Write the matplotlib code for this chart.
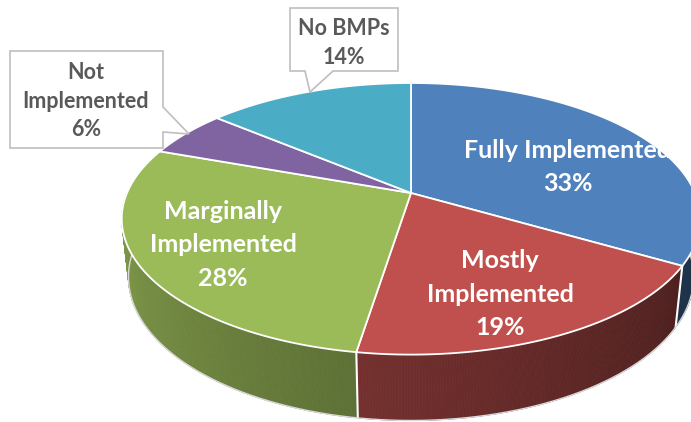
import numpy as np
import matplotlib
matplotlib.use("Agg")
import matplotlib.pyplot as plt
from matplotlib.patches import Polygon, Rectangle
from matplotlib.collections import PolyCollection

# ---- data ----
categories = ["Fully Implemented", "Mostly Implemented", "Marginally Implemented",
              "Not Implemented", "No BMPs"]
label_text = ["Fully Implemented", "Mostly\nImplemented", "Marginally\nImplemented",
              "Not\nImplemented", "No BMPs"]
shares = [33.4, 19.1, 28.0, 5.6, 13.9]
top_colors = ["#4F81BD", "#C0504D", "#9BBB59", "#8064A2", "#4BACC6"]

# ---- figure in pixel coordinates ----
W, H = 691, 422
fig = plt.figure(figsize=(W / 100, H / 100), dpi=100)
ax = fig.add_axes([0, 0, 1, 1])
ax.set_xlim(0, W)
ax.set_ylim(H, 0)
ax.axis("off")

# ---- 3D pie geometry (perspective) ----
CX, CY = 411, 193
R = 284.0
k = 0.19
sin_a = 110 * (1 + k) / R
cos_a = np.sqrt(1 - sin_a ** 2)
D = R * cos_a / k
h = 66.0


def proj(theta_deg, z):
    t = np.radians(theta_deg)
    X = R * np.cos(t)
    Y = R * np.sin(t)
    v = Y * sin_a + z * cos_a
    w = Y * cos_a - z * sin_a
    f = 1.0 / (1.0 + w / D)
    return CX + X * f, CY - v * f


vals = np.array(shares, dtype=float)
frac = vals / vals.sum()
cum = np.concatenate([[0], np.cumsum(frac)]) * 360.0
starts = 90 - cum[:-1]
ends = 90 - cum[1:]


def shade(theta):
    return np.interp(theta, [-180, -98, -30, 0], [0.86, 0.60, 0.40, 0.36])


# ---- side walls (front half) ----
for i, c in enumerate(top_colors):
    lo = max(ends[i], -180.0)
    hi = min(starts[i], 0.0)
    if lo >= hi:
        continue
    base = np.array(matplotlib.colors.to_rgb(c))
    ts = np.linspace(lo, hi, int((hi - lo) / 0.5) + 2)
    polys, cols = [], []
    for t0, t1 in zip(ts[:-1], ts[1:]):
        p = [proj(t0, 0), proj(t1, 0), proj(t1, -h), proj(t0, -h)]
        polys.append(p)
        cols.append(np.clip(base * shade((t0 + t1) / 2), 0, 1))
    pc = PolyCollection(polys, facecolors=cols, edgecolors=cols, linewidths=0.6,
                        zorder=2)
    ax.add_collection(pc)

# boundary lines on the side
for b in list(starts) + [ends[-1]]:
    if -180 < b < 0:
        x0, y0 = proj(b, 0)
        x1, y1 = proj(b, -h)
        ax.plot([x0, x1], [y0, y1], color="white", lw=1.5, zorder=3)

# bottom outline
tb = np.linspace(-180, 0, 300)
bx, by = proj(tb, -h)
ax.plot(bx, by, color="#D9D9D9", lw=1.0, zorder=3)

# ---- top face ----
for i, c in enumerate(top_colors):
    ts = np.linspace(starts[i], ends[i], 200)
    xs, ys = proj(ts, 0)
    pts = [(CX, CY)] + list(zip(xs, ys))
    ax.add_patch(Polygon(pts, closed=True, facecolor=c, edgecolor="white",
                         lw=1.3, joinstyle="round", zorder=4))

# ---- labels ----
font = "Lato"
inside = {0: (568, 167), 1: (500, 294), 2: (223, 245)}
clip_rect = Rectangle((0, 0), 671, H, transform=ax.transData, visible=False)
ax.add_patch(clip_rect)
for i, (x, y) in inside.items():
    t = ax.text(x, y, f"{label_text[i]}\n{vals[i]:.0f}%", ha="center", va="center",
                color="white", fontsize=18, fontweight="bold", family=font,
                linespacing=1.55, zorder=6)
    if i == 0:
        t.set_clip_path(clip_rect)

# callouts
callout_boxes = {
    3: [(10, 51), (163, 51), (163, 107), (189, 134), (163, 132), (163, 148), (10, 148)],
    4: [(290, 8), (398, 8), (398, 71), (333, 71), (310, 92), (305, 71), (290, 71)],
}
callout_text_pos = {3: (86, 101), 4: (344, 43)}
for i, poly in callout_boxes.items():
    ax.add_patch(Polygon(poly, closed=True, facecolor="white", edgecolor="#BFBFBF",
                         lw=1.2, zorder=7))
    x, y = callout_text_pos[i]
    ax.text(x, y, f"{label_text[i]}\n{vals[i]:.0f}%", ha="center", va="center",
            color="#595959", fontsize=15.5, fontweight="bold", family=font,
            linespacing=1.45, zorder=8)

fig.savefig("out.png", dpi=100)
